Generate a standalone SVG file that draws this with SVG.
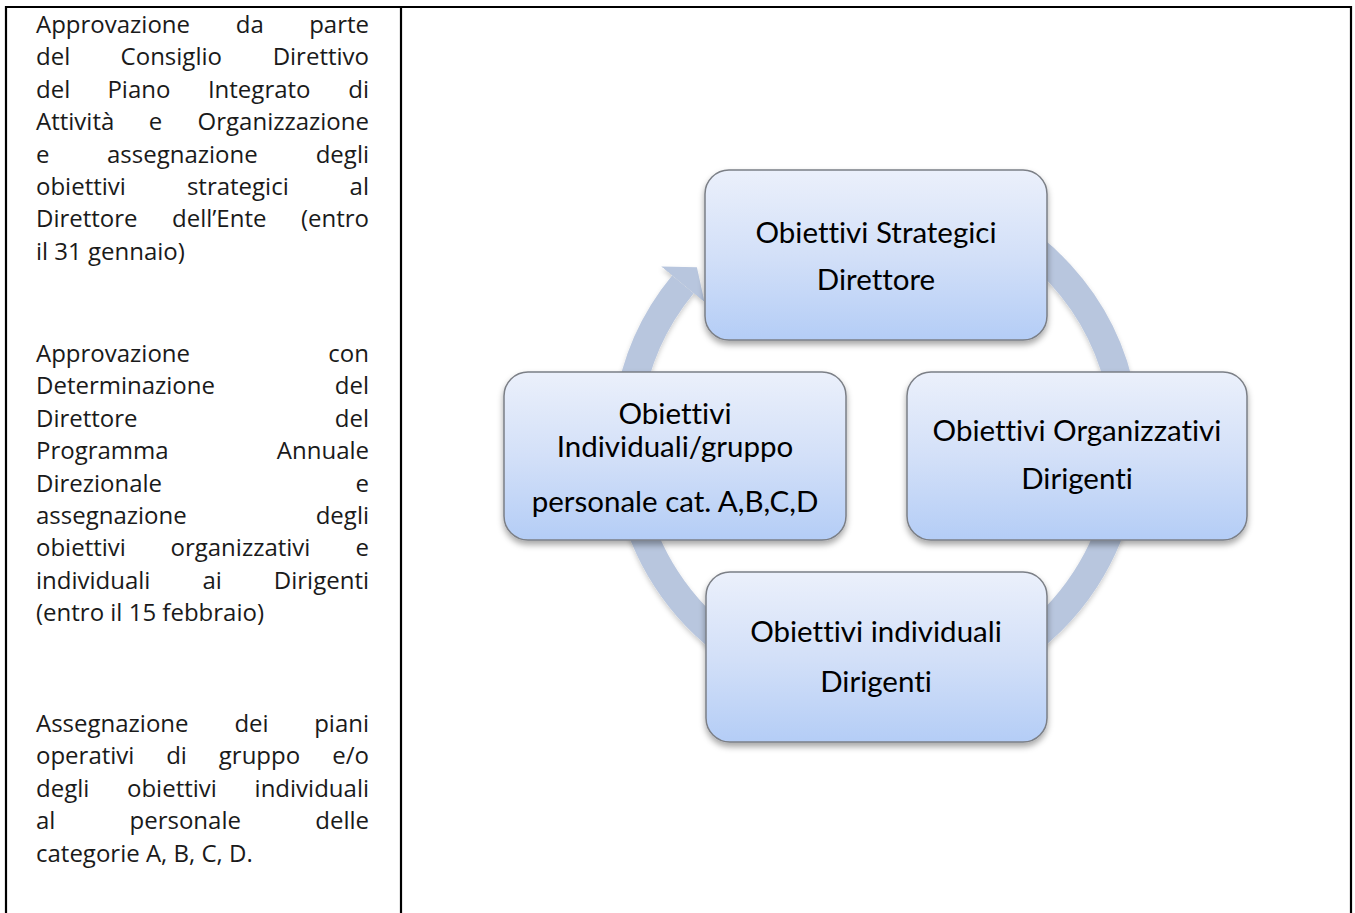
<svg xmlns="http://www.w3.org/2000/svg" width="1355" height="913" viewBox="0 0 1355 913">
<defs>
<style>
.t{font-family:"Open Sans","Liberation Sans",sans-serif;font-size:24px;fill:#1a1a1a}
.e{text-anchor:end}
.b{font-family:Lato,"Open Sans",sans-serif;font-size:29.5px;fill:#000;text-anchor:middle;font-variant-ligatures:none;font-feature-settings:"liga" 0,"clig" 0}
.box{fill:url(#g);stroke:#7b7f86;stroke-width:1.5}
.ring{fill:none;stroke:#b8c6de;stroke-width:28}
.tbl{stroke:#000;stroke-width:2.2}
</style>
<linearGradient id="g" x1="0" y1="0" x2="0" y2="1">
<stop offset="0" stop-color="#ebf0fb"/>
<stop offset="0.5" stop-color="#d3e0f8"/>
<stop offset="1" stop-color="#b4cdf6"/>
</linearGradient>
<filter id="sh" x="-10%" y="-10%" width="120%" height="130%">
<feDropShadow dx="0" dy="4" stdDeviation="3" flood-color="#000" flood-opacity="0.35"/>
</filter>
<filter id="sh2" x="-10%" y="-10%" width="120%" height="130%">
<feDropShadow dx="0" dy="3" stdDeviation="2.5" flood-color="#000" flood-opacity="0.2"/>
</filter>
<marker id="ah" markerUnits="userSpaceOnUse" markerWidth="24" markerHeight="56" viewBox="0 0 24 56" refX="0" refY="28" orient="auto">
<path d="M0,0 L22,28 L0,56 z" fill="#b8c6de"/>
</marker>
</defs>

<g id="table">
<line class="tbl" x1="5" y1="7" x2="1352" y2="7"/>
<line class="tbl" x1="6" y1="6" x2="6" y2="913"/>
<line class="tbl" x1="401" y1="6" x2="401" y2="913"/>
<line class="tbl" x1="1351" y1="6" x2="1351" y2="913"/>
</g>

<g id="text-col">
<text class="t" x="36" y="33">Approvazione</text><text class="t" x="235.8" y="33">da</text><text class="t e" x="369" y="33">parte</text>
<text class="t" x="36" y="65.4">del</text><text class="t" x="120.6" y="65.4">Consiglio</text><text class="t e" x="369" y="65.4">Direttivo</text>
<text class="t" x="36" y="97.8">del</text><text class="t" x="107.4" y="97.8">Piano</text><text class="t" x="207.9" y="97.8">Integrato</text><text class="t e" x="369" y="97.8">di</text>
<text class="t" x="36" y="130.2">Attività</text><text class="t" x="148.7" y="130.2">e</text><text class="t e" x="369" y="130.2">Organizzazione</text>
<text class="t" x="36" y="162.6">e</text><text class="t" x="107" y="162.6">assegnazione</text><text class="t e" x="369" y="162.6">degli</text>
<text class="t" x="36" y="195">obiettivi</text><text class="t" x="186.9" y="195">strategici</text><text class="t e" x="369" y="195">al</text>
<text class="t" x="36" y="227.4">Direttore</text><text class="t" x="172" y="227.4">dell’Ente</text><text class="t e" x="369" y="227.4">(entro</text>
<text class="t" x="36" y="259.8">il 31 gennaio)</text>

<text class="t" x="36" y="362">Approvazione</text><text class="t e" x="369" y="362">con</text>
<text class="t" x="36" y="394.4">Determinazione</text><text class="t e" x="369" y="394.4">del</text>
<text class="t" x="36" y="426.8">Direttore</text><text class="t e" x="369" y="426.8">del</text>
<text class="t" x="36" y="459.2">Programma</text><text class="t e" x="369" y="459.2">Annuale</text>
<text class="t" x="36" y="491.6">Direzionale</text><text class="t e" x="369" y="491.6">e</text>
<text class="t" x="36" y="524">assegnazione</text><text class="t e" x="369" y="524">degli</text>
<text class="t" x="36" y="556.4">obiettivi</text><text class="t" x="170.5" y="556.4">organizzativi</text><text class="t e" x="369" y="556.4">e</text>
<text class="t" x="36" y="588.8">individuali</text><text class="t" x="202.5" y="588.8">ai</text><text class="t e" x="369" y="588.8">Dirigenti</text>
<text class="t" x="36" y="621.2">(entro il 15 febbraio)</text>

<text class="t" x="36" y="732">Assegnazione</text><text class="t" x="234.4" y="732">dei</text><text class="t e" x="369" y="732">piani</text>
<text class="t" x="36" y="764.4">operativi</text><text class="t" x="166.2" y="764.4">di</text><text class="t" x="218.8" y="764.4">gruppo</text><text class="t e" x="369" y="764.4">e/o</text>
<text class="t" x="36" y="796.8">degli</text><text class="t" x="127" y="796.8">obiettivi</text><text class="t e" x="369" y="796.8">individuali</text>
<text class="t" x="36" y="829.2">al</text><text class="t" x="129.5" y="829.2">personale</text><text class="t e" x="369" y="829.2">delle</text>
<text class="t" x="36" y="861.6">categorie A, B, C, D.</text>
</g>

<g id="connectors" filter="url(#sh2)">
<path class="ring" marker-end="url(#ah)" d="M940.7,201.5 A250,250 0 0 1 1122.2,399.6"/>
<path class="ring" marker-end="url(#ah)" d="M1123.2,477.8 A250,250 0 0 1 1008.5,655"/>
<path class="ring" marker-end="url(#ah)" d="M732.6,647.8 A250,250 0 0 1 630.6,490.7"/>
<path class="ring" marker-end="url(#ah)" d="M628.4,408.2 A250,250 0 0 1 682.9,284.3"/>
</g>

<g id="node-top">
<rect class="box" filter="url(#sh)" x="705" y="170" width="342" height="170" rx="24"/>
<text class="b" x="876" y="243">Obiettivi Strategici</text>
<text class="b" x="876" y="290">Direttore</text>
</g>
<g id="node-right">
<rect class="box" filter="url(#sh)" x="907" y="372" width="340" height="168" rx="24"/>
<text class="b" x="1077" y="441">Obiettivi Organizzativi</text>
<text class="b" x="1077" y="489">Dirigenti</text>
</g>
<g id="node-bottom">
<rect class="box" filter="url(#sh)" x="706" y="572" width="341" height="170" rx="24"/>
<text class="b" x="876" y="642">Obiettivi individuali</text>
<text class="b" x="876" y="692">Dirigenti</text>
</g>
<g id="node-left">
<rect class="box" filter="url(#sh)" x="504" y="372" width="342" height="168" rx="24"/>
<text class="b" x="675" y="424">Obiettivi</text>
<text class="b" x="675" y="457">Individuali/gruppo</text>
<text class="b" x="675" y="512">personale cat. A,B,C,D</text>
</g>
</svg>
